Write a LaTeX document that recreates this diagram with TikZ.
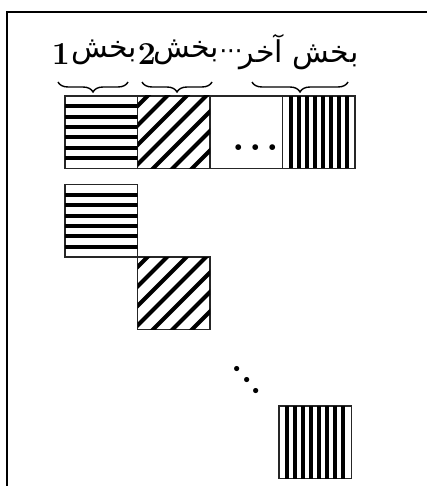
\documentclass[tikz,border=0pt]{standalone}
\usepackage{fontspec}
\newfontfamily\arabicfont[Script=Arabic]{DejaVu Sans}
\TeXXeTstate=1
\usepackage{tikz}
\usetikzlibrary{calc,positioning,decorations.pathreplacing}
\tikzset{
	frame/.style={black, line width=1pt},
	cell/.style={draw=black!85, line width=0.9pt, minimum size=36.25pt, inner sep=0pt, outer sep=0pt},
	stripe/.style={black, line width=2pt},
	partbrace/.style={decorate, decoration={brace, mirror, amplitude=5pt}, line width=0.7pt},
	partword/.style={font=\arabicfont\fontsize{15}{17}\selectfont, inner sep=0pt},
	partnum/.style={font=\fontsize{16}{18}\selectfont\bfseries, inner sep=0pt},
	bigdots/.style={font=\fontsize{#1}{#1}\selectfont\bfseries, anchor=base, inner sep=0pt},
}
% striped fillings of a cell
\newcommand{\hstripes}[1]{%
	\begin{scope}
		\clip (#1.south west) rectangle (#1.north east);
		\foreach \k in {1,...,6}
		\draw[stripe] ($(#1.north west)!\k/7!(#1.south west)$) -- ($(#1.north east)!\k/7!(#1.south east)$);
	\end{scope}}
\newcommand{\vstripes}[1]{%
	\begin{scope}
		\clip (#1.south west) rectangle (#1.north east);
		\foreach \k in {1,...,8}
		\draw[stripe] ($(#1.north west)!\k/9!(#1.north east)$) -- ($(#1.south west)!\k/9!(#1.south east)$);
	\end{scope}}
\newcommand{\dstripes}[1]{%
	\begin{scope}
		\clip (#1.south west) rectangle (#1.north east);
		\foreach \o in {-62.5,-43,...,60}
		\draw[stripe] ($(#1.south west)+(\o-10,10)$) -- ($(#1.south west)+(\o+130,-130)$);
	\end{scope}}
\begin{document}
\begin{tikzpicture}[x=0.5pt, y=-0.5pt]
	\useasboundingbox (0,0) rectangle (427,486);
	\draw[frame] (6.5,490) -- (6.5,12.5) -- (430,12.5);
	
	% top row of parts
	\node[cell] (c1) at (101.25,132.25) {};
	\node[cell, right=0pt of c1] (c2) {};
	\node[cell, right=0pt of c2] (c3) {};
	\node[cell, right=0pt of c3] (c4) {};
	\hstripes{c1}
	\dstripes{c2}
	\vstripes{c4}
	\node[bigdots=20] (rowdots) at ($(c3.center)+(9.5,18)$) {.\kern2pt.\kern2pt.};
	
	% labels and braces
	\node[partnum] (n1) at (61,54) {1};
	\node[partword] (w1) at (104,52) {\beginR بخش\endR};
	\node[partnum] (n2) at (147,54) {2};
	\node[partword] (w2) at (186,52) {\beginR بخش\endR};
	\node[font=\arabicfont\fontsize{12}{14}\selectfont, inner sep=0pt] (ldots) at (231,55) {···};
	\node[partword] (w3) at (299,52) {\beginR بخش آخر\endR};
	\draw[partbrace] (58,82) -- (128,82);
	\draw[partbrace] (142,82) -- (212,82);
	\draw[partbrace] (252,82) -- (348,82);
	
	% parts on the diagonal
	\node[cell, below=8pt of c1] (d1) {};
	\node[cell, anchor=north west] (d2) at (d1.south east) {};
	\node[cell, anchor=north west] (d3) at (279,406) {};
	\hstripes{d1}
	\dstripes{d2}
	\vstripes{d3}
	\node[bigdots=18, rotate=-49] (diagdots) at (245,382) {.\kern1.5pt.\kern1.5pt.};
\end{tikzpicture}
\end{document}
